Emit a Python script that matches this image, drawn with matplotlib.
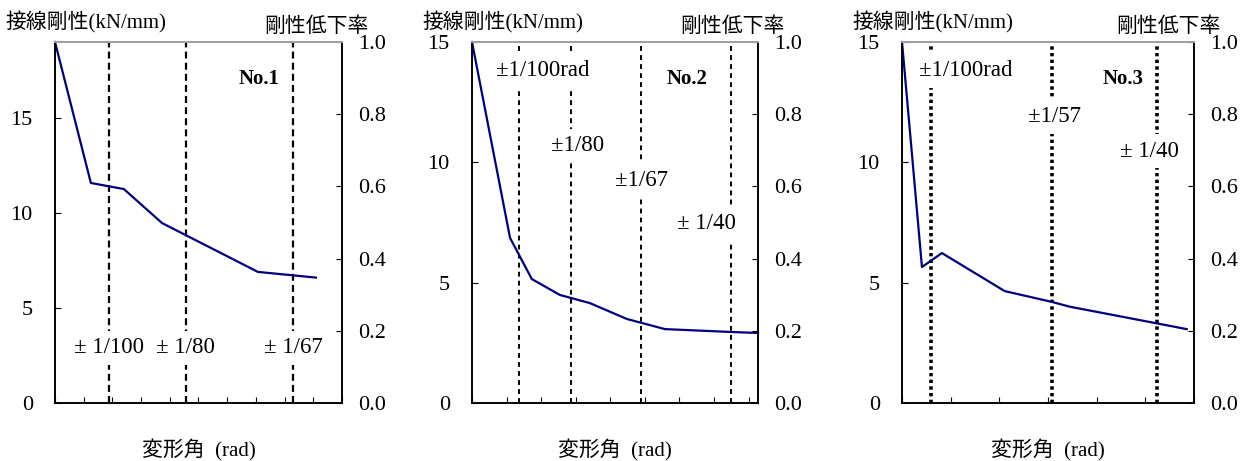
import matplotlib
matplotlib.use("Agg")
import matplotlib.pyplot as plt

plt.rcParams['font.family'] = ['Liberation Serif', 'Noto Sans CJK JP', 'DejaVu Sans']
plt.rcParams['lines.scale_dashes'] = False

# tangent stiffness (kN/mm) against loading step
step_1 = [0.0, 1.25, 2.40, 3.73, 7.07, 9.09]
stiff_1 = [19.0, 11.58, 11.26, 9.47, 6.90, 6.60]
step_2 = [0.0, 1.10, 1.73, 2.54, 3.41, 4.48, 5.58, 7.51, 8.27]
stiff_2 = [15.0, 6.86, 5.15, 4.49, 4.15, 3.49, 3.07, 2.95, 2.91]
step_3 = [0.0, 0.41, 0.82, 2.11, 3.08, 3.45, 5.26, 5.85]
stiff_3 = [15.0, 5.65, 6.23, 4.65, 4.20, 4.00, 3.30, 3.07]

# drift angle markers (vertical dashed lines)
marks_1 = [1.88, 4.56, 8.29]
marks_2 = [1.36, 2.86, 4.88, 7.49]
marks_3 = [0.60, 3.08, 5.24]

# annotations: (text, x, y, bold)
notes_1 = [('± 1/100', 1.88, 2.9, False), ('± 1/80', 4.56, 2.9, False),
           ('± 1/67', 8.29, 2.9, False), ('No.1', 7.10, 17.05, True)]
notes_2 = [('±1/100rad', 2.05, 13.83, False), ('No.2', 6.21, 13.46, True),
           ('±1/80', 3.06, 10.68, False), ('±1/67', 4.91, 9.26, False),
           ('± 1/40', 6.79, 7.44, False)]
notes_3 = [('±1/100rad', 1.30, 13.83, False), ('No.3', 4.54, 13.46, True),
           ('±1/57', 3.13, 11.92, False), ('± 1/40', 5.09, 10.47, False)]

panels = [
    dict(x=step_1, y=stiff_1, marks=marks_1, notes=notes_1, xmax=10.0, ymax=19,
         xticks=range(0, 11), rect=[55, 42, 342, 403], mark_lw=1.6, dash=(5.0, 3.0)),
    dict(x=step_2, y=stiff_2, marks=marks_2, notes=notes_2, xmax=8.27, ymax=15,
         xticks=range(0, 9), rect=[472, 42, 758, 403], mark_lw=1.4, dash=(3.5, 3.0)),
    dict(x=step_3, y=stiff_3, marks=marks_3, notes=notes_3, xmax=6.0, ymax=15,
         xticks=range(0, 7), rect=[902, 42, 1194, 403], mark_lw=2.6, dash=(2.4, 2.4)),
]

W, H = 1248, 461
fig = plt.figure(figsize=(W / 100, H / 100), dpi=100)
fs = 15

for p in panels:
    x0, y0, x1, y1 = p['rect']
    ax = fig.add_axes([x0 / W, 1 - y1 / H, (x1 - x0) / W, (y1 - y0) / H])
    ax.set_xlim(0, p['xmax'])
    ax.set_ylim(0, p['ymax'])
    ax.set_yticks([0, 5, 10, 15])
    ax.set_xticks(list(p['xticks']))
    ax.set_xticklabels([])
    ax.tick_params(axis='y', direction='in', length=4.5, width=0.8, pad=16, labelsize=16)
    ax.tick_params(axis='x', direction='in', length=4, width=0.8)

    for m in p['marks']:
        ax.axvline(m, color='black', lw=p['mark_lw'], dashes=p['dash'], zorder=1)
    ax.plot(p['x'], p['y'], color='#000080', lw=1.6, zorder=3, clip_on=False)

    for txt, tx, ty, bold in p['notes']:
        ax.text(tx, ty, txt, ha='center', va='center',
                fontsize=15 if bold else 16.5,
                fontweight='bold' if bold else 'normal', zorder=2,
                bbox=dict(boxstyle='square,pad=0.3', fc='white', ec='none'))

    ax2 = ax.twinx()
    ax2.set_ylim(0, 1.0)
    ax2.set_yticks([0, 0.2, 0.4, 0.6, 0.8, 1.0])
    ax2.set_yticklabels(['0.0', '0.2', '0.4', '0.6', '0.8', '1.0'])
    ax2.tick_params(axis='y', direction='in', length=4.5, width=0.8, pad=11.5, labelsize=16)

    for a in (ax, ax2):
        for side in ('left', 'right', 'bottom'):
            a.spines[side].set_color('black')
            a.spines[side].set_linewidth(1.2)
        a.spines['top'].set_color('#a0a0a0')
        a.spines['top'].set_linewidth(1.4)

    fig.text((x0 - 50) / W, 1 - 22 / H, '接線剛性(kN/mm)', fontsize=fs,
             ha='left', va='center')
    fig.text((x1 - 26) / W, 1 - 27 / H, '剛性低下率', fontsize=fs,
             ha='center', va='center')
    fig.text((x0 + x1) / 2 / W, 1 - 450 / H, '変形角  (rad)', fontsize=fs,
             ha='center', va='center')

fig.savefig('out.png', dpi=100)
